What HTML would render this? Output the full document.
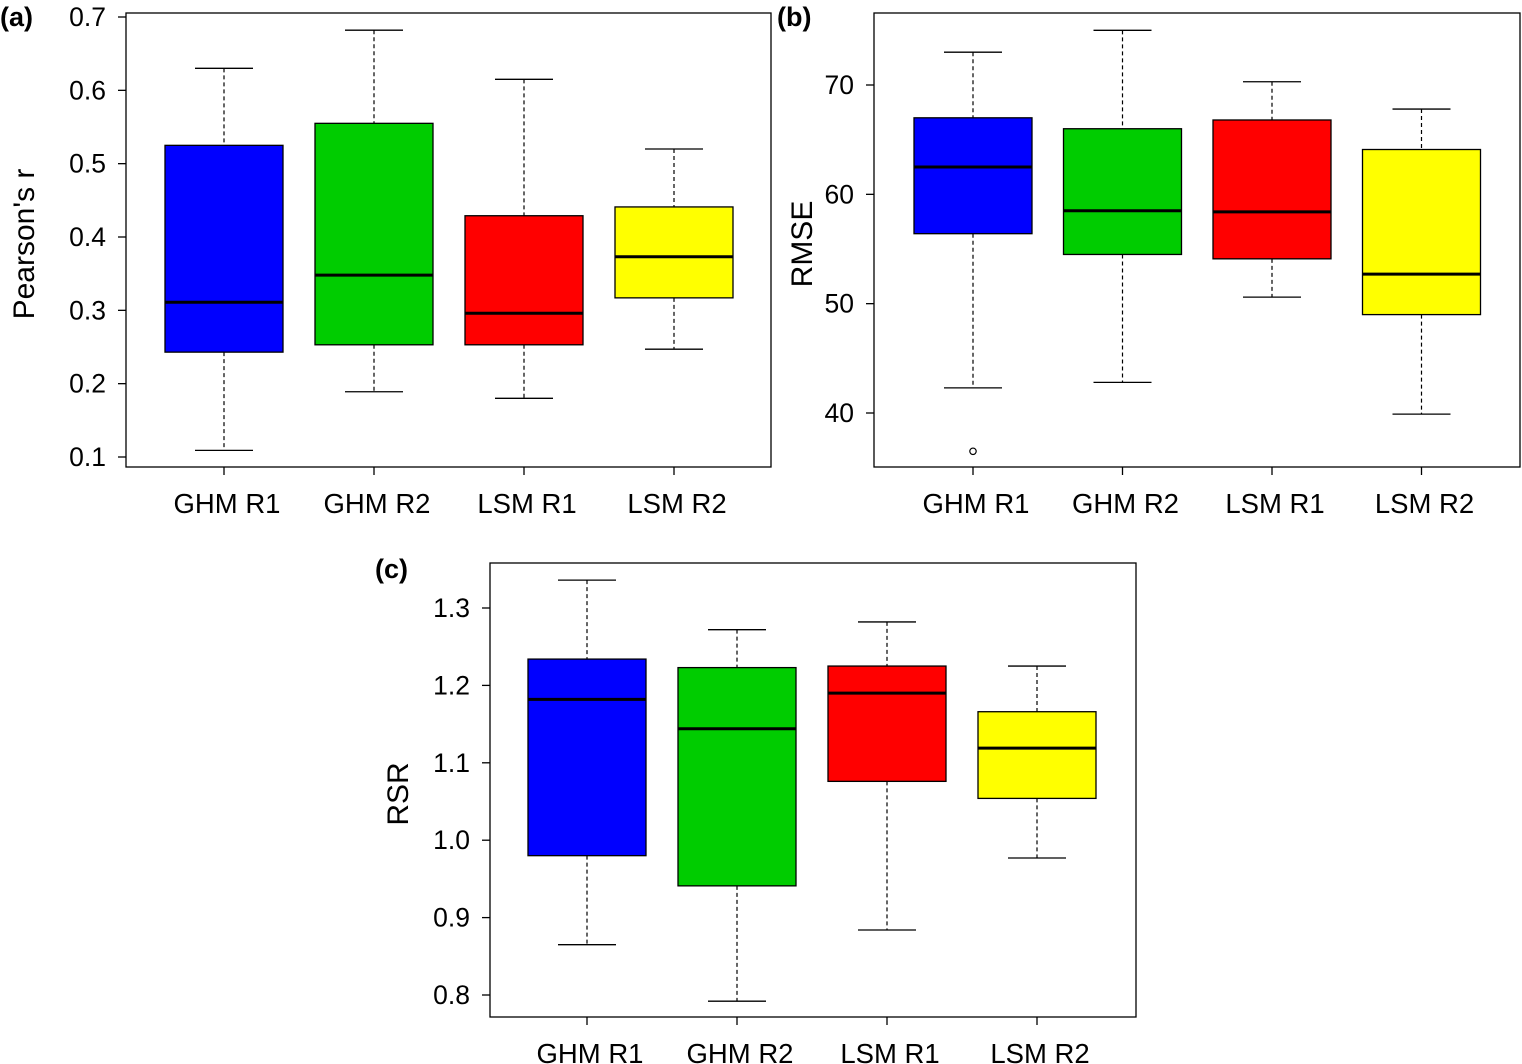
<!DOCTYPE html>
<html><head><meta charset="utf-8"><style>
html,body{margin:0;padding:0;background:#fff;width:1522px;height:1064px;overflow:hidden}
svg text{font-family:"Liberation Sans",Arial,sans-serif;fill:#000}
</style></head><body>
<svg id="chart" width="1522" height="1064" xmlns="http://www.w3.org/2000/svg"></svg>
<script>
const categories = ["GHM R1","GHM R2","LSM R1","LSM R2"];
const colors = ["#0000ff","#00cc00","#ff0000","#ffff00"];
// [whiskerLow, q1, median, q3, whiskerHigh]
const pearsonStats = [[0.109,0.243,0.311,0.525,0.630],[0.189,0.253,0.348,0.555,0.682],[0.180,0.253,0.296,0.429,0.615],[0.247,0.317,0.373,0.441,0.520]];
const rmseStats = [[42.3,56.4,62.5,67.0,73.0],[42.8,54.5,58.5,66.0,75.0],[50.6,54.1,58.4,66.8,70.3],[39.9,49.0,52.7,64.1,67.8]];
const rmseOutliers = [[36.5],[],[],[]];
const rsrStats = [[0.865,0.980,1.182,1.234,1.336],[0.792,0.941,1.144,1.223,1.272],[0.884,1.076,1.190,1.225,1.282],[0.977,1.054,1.119,1.166,1.225]];
const pearsonTicks = [0.1,0.2,0.3,0.4,0.5,0.6,0.7];
const rmseTicks = [40,50,60,70];
const rsrTicks = [0.8,0.9,1.0,1.1,1.2,1.3];

const svg = document.getElementById('chart');
const NS = "http://www.w3.org/2000/svg";
function mk(tag, attrs, parent){ const e=document.createElementNS(NS,tag); for(const k in attrs) e.setAttribute(k,attrs[k]); (parent||svg).appendChild(e); return e; }

function panel(cfg){
  const g = mk('g',{});
  
  
  const y = v => cfg.y0 + (v - cfg.v0) * (cfg.y1 - cfg.y0) / (cfg.v1 - cfg.v0);
  const frame = mk('rect',{x:cfg.bx,y:cfg.by,width:cfg.bw,height:cfg.bh,fill:'none',stroke:'#000','stroke-width':1.3},g);
  
  
  cfg.ticks.forEach(t=>{
    const yy=y(t);
    mk('line',{x1:cfg.bx-8,x2:cfg.bx,y1:yy,y2:yy,stroke:'#000','stroke-width':1.3},g);
    const tx=mk('text',{x:cfg.bx-20,y:yy+9,'font-size':26.5,'text-anchor':'end'},g);
    tx.textContent=cfg.fmt(t);
    
    
  });
  const tt=mk('text',{x:0,y:0,'font-size':30,'text-anchor':'middle',transform:`translate(${cfg.titleX},${cfg.by+cfg.bh/2+4}) rotate(-90)`},g);
  tt.textContent=cfg.title;
  
  
  const lab=mk('text',{x:cfg.labX,y:cfg.labY,'font-size':27,'font-weight':'bold'},g);
  lab.textContent=cfg.label;
  
  
  categories.forEach((c,i)=>{
    const cx=cfg.c0+i*cfg.step;
    const s=cfg.stats[i];
    const hw=59, cw=29;
    mk('line',{x1:cx,x2:cx,y1:cfg.by+cfg.bh,y2:cfg.by+cfg.bh+8,stroke:'#000','stroke-width':1.3},g);
    const xl=mk('text',{x:cx+3,y:cfg.by+cfg.bh+46,'font-size':27.5,'text-anchor':'middle'},g);
    xl.textContent=c;
    
    
    mk('line',{x1:cx,x2:cx,y1:y(s[4]),y2:y(s[3]),stroke:'#000','stroke-width':1.2,'stroke-dasharray':'4,3'},g);
    mk('line',{x1:cx,x2:cx,y1:y(s[1]),y2:y(s[0]),stroke:'#000','stroke-width':1.2,'stroke-dasharray':'4,3'},g);
    mk('line',{x1:cx-cw,x2:cx+cw,y1:y(s[4]),y2:y(s[4]),stroke:'#000','stroke-width':1.3},g);
    mk('line',{x1:cx-cw,x2:cx+cw,y1:y(s[0]),y2:y(s[0]),stroke:'#000','stroke-width':1.3},g);
    const b=mk('rect',{x:cx-hw,y:y(s[3]),width:2*hw,height:y(s[1])-y(s[3]),fill:colors[i],stroke:'#000','stroke-width':1.3},g);
    
    
    mk('line',{x1:cx-hw,x2:cx+hw,y1:y(s[2]),y2:y(s[2]),stroke:'#000','stroke-width':3},g);
    (cfg.outliers?cfg.outliers[i]:[]).forEach(o=>{
      const p=mk('circle',{cx:cx,cy:y(o),r:3.2,fill:'none',stroke:'#000','stroke-width':1.2},g);
      
      
    });
  });
}
panel({name:'panel-a-pearson',bx:126,by:13,bw:645,bh:454,v0:0.7,y0:17,v1:0.1,y1:457,ticks:pearsonTicks,fmt:t=>t.toFixed(1),stats:pearsonStats,c0:224,step:150,title:"Pearson's r",titleX:34,label:'(a)',labX:0,labY:26});
panel({name:'panel-b-rmse',bx:874,by:13,bw:646,bh:454,v0:70,y0:85,v1:40,y1:413,ticks:rmseTicks,fmt:t=>String(t),stats:rmseStats,outliers:rmseOutliers,c0:973,step:149.5,title:'RMSE',titleX:812,label:'(b)',labX:777,labY:26});
panel({name:'panel-c-rsr',bx:490,by:563,bw:646,bh:454,v0:1.3,y0:608,v1:0.8,y1:995,ticks:rsrTicks,fmt:t=>t.toFixed(1),stats:rsrStats,c0:587,step:150,title:'RSR',titleX:408,label:'(c)',labX:375,labY:578});
</script>
</body></html>
